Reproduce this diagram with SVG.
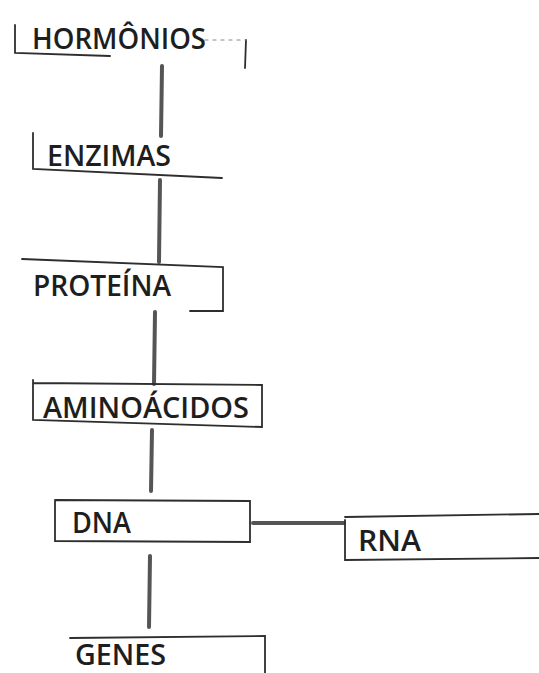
<svg xmlns="http://www.w3.org/2000/svg" width="539" height="673" viewBox="0 0 539 673">
<style>
.b{fill:none;stroke:#2e2e2e;stroke-width:1.8;stroke-linecap:round}
.f{stroke:#888;stroke-width:1.2;stroke-dasharray:3 5}
.t{font-family:"Open Sans","Liberation Sans",sans-serif;font-weight:600;font-size:29px;fill:#1e1e1e}
.c{stroke:#555;stroke-width:4;stroke-linecap:round;fill:none}
</style>
<rect width="539" height="673" fill="#ffffff"/>
<g id="connectors">
<line class="c" x1="162" y1="66" x2="161" y2="136"/>
<line class="c" x1="160" y1="180" x2="159" y2="262"/>
<line class="c" x1="155" y1="312" x2="154" y2="384"/>
<line class="c" x1="152" y1="430" x2="151" y2="491"/>
<line class="c" x1="150" y1="556" x2="149" y2="627"/>
<line class="c" x1="253" y1="523" x2="344" y2="523"/>
</g>
<g id="hormonios">
<path class="b" d="M15,25 L15,53 L110,56"/>
<path class="b" d="M246,40 L245,68"/>
<path class="b f" d="M205,40 L246,40"/>
<text class="t" x="32" y="49" textLength="174" lengthAdjust="spacingAndGlyphs">HORMÔNIOS</text>
</g>
<g id="enzimas">
<path class="b" d="M33,133 L33,169 L222,178"/>
<text class="t" x="47" y="166" textLength="124" lengthAdjust="spacingAndGlyphs">ENZIMAS</text>
</g>
<g id="proteina">
<path class="b" d="M22,259 L223,267 L223,311 L190,311"/>
<text class="t" x="33" y="296" textLength="138" lengthAdjust="spacingAndGlyphs">PROTEÍNA</text>
</g>
<g id="aminoacidos">
<path class="b" d="M33,380 L33,420 L262,427 L262,385 L33,383"/>
<text class="t" x="43" y="418" textLength="206" lengthAdjust="spacingAndGlyphs">AMINOÁCIDOS</text>
</g>
<g id="dna">
<path class="b" d="M55,500 L55,541 L250,542 L250,501 L55,500"/>
<text class="t" x="72" y="533" textLength="59" lengthAdjust="spacingAndGlyphs">DNA</text>
</g>
<g id="rna">
<path class="b" d="M345,520 L345,560 L539,558"/>
<path class="b" d="M345,517 L539,514"/>
<text class="t" x="358" y="551" textLength="63" lengthAdjust="spacingAndGlyphs">RNA</text>
</g>
<g id="genes">
<path class="b" d="M70,638 L265,636 L265,673"/>
<text class="t" x="75" y="665" textLength="91" lengthAdjust="spacingAndGlyphs">GENES</text>
</g>
</svg>
